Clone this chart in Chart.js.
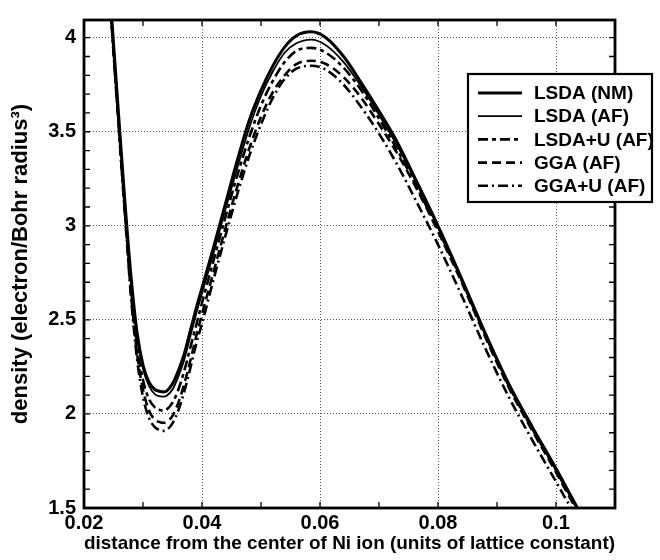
<!DOCTYPE html>
<html>
<head>
<meta charset="utf-8">
<script src="https://cdn.jsdelivr.net/npm/chart.js@4.4.1/dist/chart.umd.min.js"></script>
<style>
  html, body { margin: 0; padding: 0; background: #fff; }
  canvas { display: block; }
</style>
</head>
<body>
<canvas id="chart" width="660" height="560"></canvas>
<script>
// distance from the Ni ion centre (lattice constant units)
const distance = [0.0240, 0.0250, 0.0260, 0.0270, 0.0280, 0.0290, 0.0300, 0.0310, 0.0320, 0.0330,
  0.0335, 0.0340, 0.0350, 0.0360, 0.0370, 0.0380, 0.0390, 0.0400, 0.0420, 0.0440,
  0.0460, 0.0480, 0.0500, 0.0520, 0.0540, 0.0560, 0.0585, 0.0610, 0.0640, 0.0670,
  0.0700, 0.0730, 0.0760, 0.0800, 0.0840, 0.0880, 0.0920, 0.0960, 0.1000, 0.1040, 0.1080];

// density, electron / Bohr radius^3
const lsdaNM = [4.42, 3.97, 3.53, 3.10, 2.72, 2.43, 2.26, 2.17, 2.13, 2.119,
  2.117, 2.121, 2.16, 2.23, 2.32, 2.44, 2.56, 2.67, 2.89, 3.12,
  3.35, 3.56, 3.72, 3.85, 3.95, 4.01, 4.031, 4.00, 3.90, 3.76,
  3.61, 3.45, 3.26, 3.00, 2.72, 2.43, 2.16, 1.93, 1.71, 1.48, 1.27];
const lsdaAF = [4.42, 3.96, 3.52, 3.09, 2.70, 2.41, 2.24, 2.15, 2.105, 2.093,
  2.092, 2.097, 2.13, 2.20, 2.29, 2.41, 2.53, 2.64, 2.86, 3.09,
  3.31, 3.52, 3.69, 3.82, 3.92, 3.97, 3.99, 3.96, 3.87, 3.74,
  3.59, 3.43, 3.25, 2.99, 2.71, 2.42, 2.15, 1.92, 1.70, 1.47, 1.26];
const lsdaUAF = [4.40, 3.94, 3.49, 3.06, 2.66, 2.36, 2.18, 2.08, 2.035, 2.020,
  2.018, 2.023, 2.06, 2.13, 2.23, 2.35, 2.47, 2.59, 2.82, 3.05,
  3.27, 3.47, 3.64, 3.77, 3.87, 3.93, 3.946, 3.92, 3.84, 3.72,
  3.57, 3.41, 3.23, 2.98, 2.71, 2.42, 2.15, 1.92, 1.70, 1.47, 1.26];
const ggaAF = [4.39, 3.93, 3.48, 3.04, 2.63, 2.32, 2.13, 2.02, 1.97, 1.955,
  1.953, 1.958, 1.99, 2.06, 2.16, 2.28, 2.41, 2.53, 2.76, 2.99,
  3.21, 3.41, 3.58, 3.71, 3.80, 3.86, 3.877, 3.86, 3.79, 3.68,
  3.54, 3.39, 3.22, 2.97, 2.70, 2.41, 2.14, 1.91, 1.69, 1.46, 1.25];
const ggaUAF = [4.38, 3.92, 3.47, 3.03, 2.61, 2.29, 2.09, 1.98, 1.93, 1.912,
  1.910, 1.915, 1.95, 2.02, 2.12, 2.24, 2.37, 2.48, 2.72, 2.95,
  3.17, 3.37, 3.54, 3.68, 3.78, 3.835, 3.851, 3.83, 3.75, 3.63,
  3.49, 3.33, 3.15, 2.90, 2.63, 2.35, 2.09, 1.86, 1.64, 1.42, 1.21];

const seriesLabels = ['LSDA (NM)', 'LSDA (AF)', 'LSDA+U (AF)', 'GGA (AF)', 'GGA+U (AF)'];
const xTicks = [0.02, 0.04, 0.06, 0.08, 0.1];
const xTickLabels = ['0.02', '0.04', '0.06', '0.08', '0.1'];
const yTicks = [1.5, 2, 2.5, 3, 3.5, 4];
const yTickLabels = ['1.5', '2', '2.5', '3', '3.5', '4'];

const FONT = "'Liberation Sans', Arial, Helvetica, sans-serif";

function points(ys) {
  return distance.map((d, i) => ({ x: d, y: ys[i] }));
}

// frame, inward minor ticks and the boxed legend
const decorPlugin = {
  id: 'decor',
  afterDatasetsDraw(chart) {
    const { ctx, chartArea: a, scales: { x, y } } = chart;
    ctx.save();
    ctx.strokeStyle = '#000';
    ctx.lineWidth = 1.3;
    ctx.beginPath();
    for (let i = 3; i <= 10; i++) {
      const px = x.getPixelForValue(i / 100);
      ctx.moveTo(px, a.bottom); ctx.lineTo(px, a.bottom - 6);
      ctx.moveTo(px, a.top); ctx.lineTo(px, a.top + 6);
    }
    for (let i = 16; i <= 40; i++) {
      const py = y.getPixelForValue(i / 10);
      ctx.moveTo(a.left, py); ctx.lineTo(a.left + 6, py);
      ctx.moveTo(a.right, py); ctx.lineTo(a.right - 6, py);
    }
    ctx.stroke();
    ctx.lineWidth = 2.8;
    ctx.strokeRect(a.left, a.top, a.right - a.left, a.bottom - a.top);
    ctx.restore();
  },
  afterDraw(chart) {
    const { ctx, chartArea: a } = chart;
    const lx = a.right - 147, ly = a.top + 54, lw = 184, lh = 128;
    ctx.save();
    ctx.fillStyle = '#fff';
    ctx.fillRect(lx, ly, lw, lh);
    ctx.font = 'bold 19px ' + FONT;
    ctx.textBaseline = 'middle';
    chart.data.datasets.forEach((ds, i) => {
      const cy = ly + 19 + i * 23.2;
      ctx.strokeStyle = '#000';
      ctx.lineWidth = ds.borderWidth;
      ctx.setLineDash(ds.borderDash || []);
      ctx.beginPath();
      ctx.moveTo(lx + 10, cy); ctx.lineTo(lx + 54, cy);
      ctx.stroke();
      ctx.setLineDash([]);
      ctx.fillStyle = '#000';
      ctx.fillText(ds.label, lx + 66, cy + 1);
    });
    ctx.lineWidth = 2.2;
    ctx.strokeRect(lx, ly, lw, lh);
    ctx.restore();
  }
};

const lineBase = {
  borderColor: '#000',
  pointRadius: 0,
  fill: false,
  cubicInterpolationMode: 'monotone'
};

new Chart(document.getElementById('chart'), {
  type: 'line',
  data: {
    datasets: [
      { ...lineBase, label: seriesLabels[0], data: points(lsdaNM), borderWidth: 3 },
      { ...lineBase, label: seriesLabels[1], data: points(lsdaAF), borderWidth: 1.8 },
      { ...lineBase, label: seriesLabels[2], data: points(lsdaUAF), borderWidth: 2.6, borderDash: [10, 4, 4, 4] },
      { ...lineBase, label: seriesLabels[3], data: points(ggaAF), borderWidth: 2.6, borderDash: [9, 5] },
      { ...lineBase, label: seriesLabels[4], data: points(ggaUAF), borderWidth: 2.6, borderDash: [10, 4, 2, 4] }
    ]
  },
  options: {
    responsive: false,
    animation: false,
    devicePixelRatio: 1,
    layout: { padding: { top: 11, right: 45, left: 0, bottom: 0 } },
    plugins: { legend: { display: false }, tooltip: { enabled: false } },
    scales: {
      x: {
        type: 'linear',
        min: 0.02,
        max: 0.11,
        afterBuildTicks: s => { s.ticks = xTicks.map(v => ({ value: v })); },
        afterFit: s => { s.height = 52; },
        border: { display: false, dash: [1, 2] },
        grid: { color: '#555', lineWidth: 1, drawTicks: false },
        ticks: {
          autoSkip: false, maxRotation: 0, padding: 3, color: '#000',
          font: { family: FONT, size: 20, weight: 'bold' },
          callback: (v, i) => xTickLabels[i]
        },
        title: {
          display: true,
          text: 'distance from the center of Ni ion (units of lattice constant)',
          color: '#000',
          font: { family: FONT, size: 19, weight: 'bold' },
          padding: { top: 0, bottom: 5 }
        }
      },
      y: {
        type: 'linear',
        min: 1.5,
        max: 4.094,
        afterBuildTicks: s => { s.ticks = yTicks.map(v => ({ value: v })); },
        afterFit: s => { s.width = 84; },
        border: { display: false, dash: [1, 2] },
        grid: { color: '#555', lineWidth: 1, drawTicks: false },
        ticks: {
          autoSkip: false, padding: 8, color: '#000',
          font: { family: FONT, size: 20, weight: 'bold' },
          callback: (v, i) => yTickLabels[i]
        },
        title: {
          display: true,
          text: 'density (electron/Bohr radius³)',
          color: '#000',
          font: { family: FONT, size: 22, weight: 'bold' },
          padding: { top: 8, bottom: 0 }
        }
      }
    }
  },
  plugins: [decorPlugin]
});
</script>
</body>
</html>
